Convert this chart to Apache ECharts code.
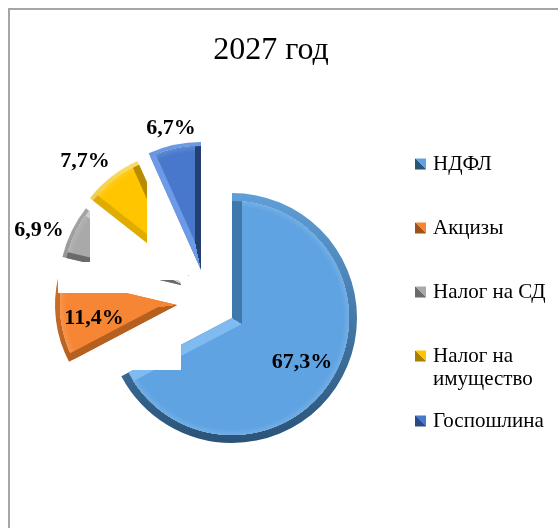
<!DOCTYPE html>
<html>
<head>
<meta charset="utf-8">
<style>
  html, body { margin: 0; background: #fff; }
  #chart { width: 558px; height: 528px; }
</style>
<script src="https://cdn.jsdelivr.net/npm/echarts@6/dist/echarts.min.js"></script>
</head>
<body>
<div id="chart"></div>
<script>
const FONT = '"Liberation Serif", "Times New Roman", serif'

const categories = ['НДФЛ', 'Акцизы', 'Налог на СД', 'Налог на имущество', 'Госпошлина']
const values = [67.3, 11.4, 6.9, 7.7, 6.7]

// colours: flat face, start-side edge, end-side edge, rim top, rim bottom
const faceColors = ['#5fa3e2', '#f68634', '#a9a9a9', '#ffc600', '#4878cc']
const startEdge = ['#3f78ab', '#b5601f', '#6a6a6a', '#e0ac00', '#6d9ae6']
const endEdge = ['#7fbaf0', '#f68634', '#cfcfcf', '#b88c00', '#25406f']
const rimTop = ['#5f9fd8', '#f68634', '#b4b4b4', '#ffe066', '#6d9ae6']
const rimBottom = ['#2a5378', '#9c5218', '#6b6b6b', '#a87f00', '#2a4a80']

// where each exploded slice has its tip, and how it is stacked
const centers = [[232, 318], [177, 305], [185, 286], [189, 276], [201, 270]]
const radii = [125, 122, 126, 126, 128]
const stack = [2, 6, 4, 8, 12]
const bevel = [10, 7, 6, 7, 6]
const rim = [8, 5, 4, 4, 4]
const labelPos = [[302, 362], [94, 318], [39, 230], [85, 161], [171, 128]]

const legendTops = [147, 211, 275, 339, 404]
const legendFirstLine = ['НДФЛ', 'Акцизы', 'Налог на СД', 'Налог на', 'Госпошлина']

// white patches that hide parts of the slices in the original picture: x, y, w, h, z
const patches = [
  [127, 300, 54, 70, 3],
  [90, 200, 95, 80, 5],
  [181, 278, 10, 18, 7],
  [58, 262, 80, 31, 7],
  [147, 172, 50, 103, 9]
]

function buildSeries() {
  const series = []
  let cumulative = 0
  values.forEach((value, i) => {
    const startDeg = cumulative * 3.6
    const sweep = value * 3.6
    cumulative += value
    const [cx, cy] = centers[i]
    const r = radii[i]
    const mid = (startDeg + sweep / 2) * Math.PI / 180
    const dir = [Math.sin(mid), -Math.cos(mid)]
    const inset = bevel[i] / Math.sin(sweep / 2 * Math.PI / 180)

    const slice = (name, center, radius, color, extra) => Object.assign({
      type: 'pie',
      silent: true,
      animation: false,
      z: stack[i],
      center: center,
      radius: radius,
      startAngle: 90 - startDeg,
      avoidLabelOverlap: false,
      label: { show: false },
      labelLine: { show: false },
      emphasis: { disabled: true },
      data: [
        { name: name, value: value, itemStyle: { color: color } },
        { name: 'rest', value: 100 - value, itemStyle: { color: 'transparent' }, label: { show: false } }
      ]
    }, extra)

    // outer rim
    series.push(slice(categories[i], [cx, cy], r,
      new echarts.graphic.LinearGradient(0, cy - r, 0, cy + r, [
        { offset: 0, color: rimTop[i] },
        { offset: 1, color: rimBottom[i] }
      ], true)))

    // bevel on the two straight edges
    const px = -dir[1] * r
    const py = dir[0] * r
    series.push(slice(categories[i], [cx, cy], r - rim[i],
      new echarts.graphic.LinearGradient(cx - px, cy - py, cx + px, cy + py, [
        { offset: 0, color: startEdge[i] },
        { offset: 0.5, color: startEdge[i] },
        { offset: 0.5, color: endEdge[i] },
        { offset: 1, color: endEdge[i] }
      ], true)))

    // flat face, moved along the bisector, faded where the rim starts
    const edge = (r - rim[i]) / r
    series.push(slice(categories[i], [cx + dir[0] * inset, cy + dir[1] * inset], r + inset,
      new echarts.graphic.RadialGradient(cx, cy, r, [
        { offset: 0, color: faceColors[i] },
        { offset: edge - 6 / r, color: faceColors[i] },
        { offset: edge, color: echarts.color.lift(faceColors[i], 0.12) },
        { offset: edge + 0.5 / r, color: 'rgba(255,255,255,0)' },
        { offset: 1, color: 'rgba(255,255,255,0)' }
      ], true), {
        label: {
          show: true,
          position: 'inside',
          formatter: () => value.toFixed(1).replace('.', ',') + '%',
          fontFamily: FONT,
          fontSize: 22,
          fontWeight: 'bold',
          color: '#000'
        },
        labelLayout: { x: labelPos[i][0], y: labelPos[i][1], align: 'center', verticalAlign: 'middle' }
      }))
  })
  return series
}

const chart = echarts.init(document.getElementById('chart'))

chart.setOption({
  backgroundColor: '#fff',
  title: {
    text: '2027 год',
    left: 266,
    top: 30,
    textAlign: 'center',
    textStyle: { fontFamily: FONT, fontSize: 32, fontWeight: 'normal', color: '#000' }
  },
  legend: categories.map((name, i) => ({
    orient: 'vertical',
    left: 410,
    top: legendTops[i],
    itemWidth: 11,
    itemHeight: 11,
    itemGap: 0,
    selectedMode: false,
    icon: 'rect',
    formatter: () => legendFirstLine[i],
    textStyle: { fontFamily: FONT, fontSize: 21, color: '#000', lineHeight: 24, padding: [0, 0, 0, 2] },
    data: [{
      name: name,
      itemStyle: {
        color: new echarts.graphic.LinearGradient(0, 1, 1, 0, [
          { offset: 0, color: rimBottom[i] },
          { offset: 0.5, color: rimBottom[i] },
          { offset: 0.5, color: faceColors[i] },
          { offset: 1, color: faceColors[i] }
        ])
      }
    }]
  })),
  graphic: [
    {
      type: 'rect',
      silent: true,
      z: 0,
      shape: { x: 9, y: 9, width: 700, height: 700 },
      style: { fill: 'none', stroke: '#a6a6a6', lineWidth: 2 }
    },
    {
      type: 'text',
      silent: true,
      x: 433,
      y: 369,
      z: 20,
      style: { text: 'имущество', font: '21px ' + FONT, fill: '#000' }
    }
  ].concat(patches.map(p => ({
    type: 'rect',
    silent: true,
    z: p[4],
    shape: { x: p[0], y: p[1], width: p[2], height: p[3] },
    style: { fill: '#fff' }
  }))),
  series: buildSeries()
})
</script>
</body>
</html>
